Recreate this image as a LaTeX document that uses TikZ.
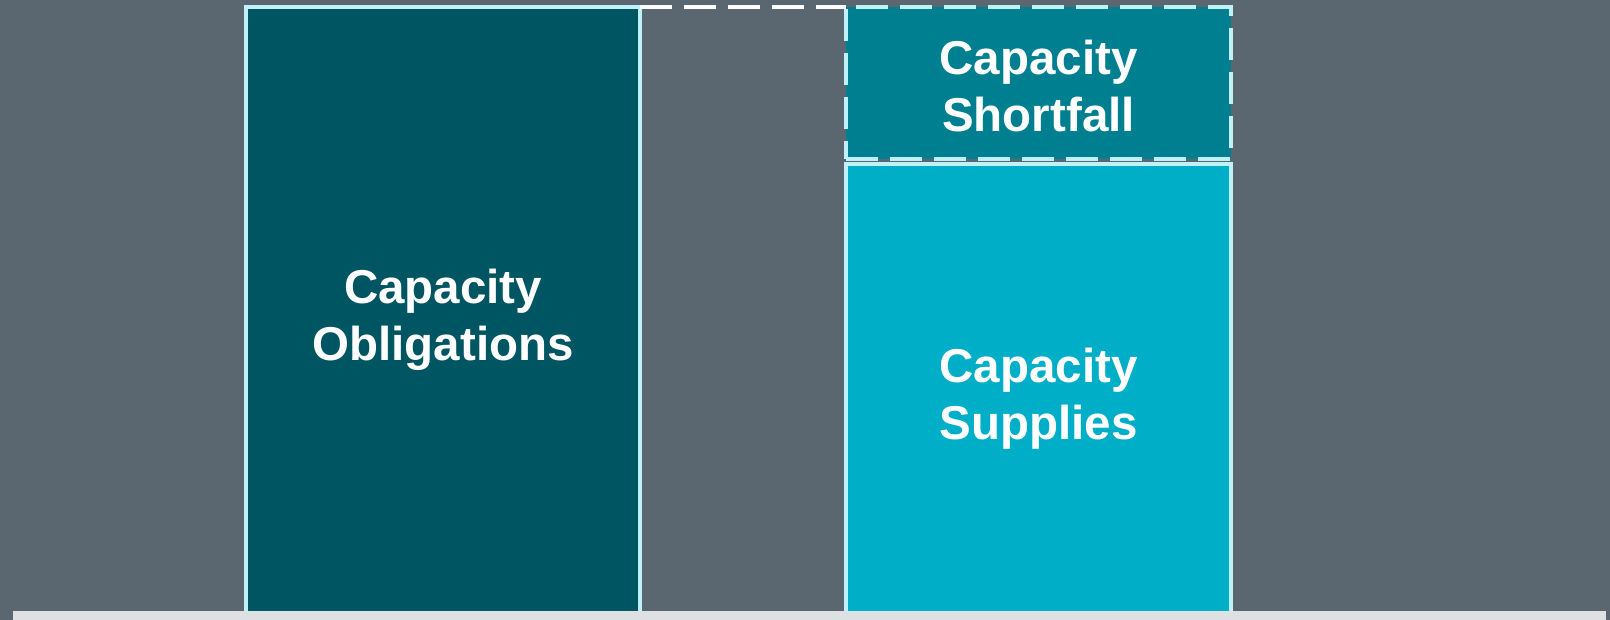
\documentclass[tikz,border=0pt]{standalone}
\usepackage{fontspec}
\setmainfont{Liberation Sans}
\usetikzlibrary{positioning}

\definecolor{slate}{HTML}{5B6770}
\definecolor{deepteal}{HTML}{005562}
\definecolor{midteal}{HTML}{007F90}
\definecolor{brightteal}{HTML}{00AEC7}
\definecolor{paleedge}{HTML}{C1F1F8}
\definecolor{floorgrey}{HTML}{DDE1E4}

\begin{document}
\begin{tikzpicture}[
        x=1pt,
        y=-1pt,
        bar/.style={
            rectangle,
            draw=paleedge,
            line width=4pt,
            inner sep=0pt,
            outer sep=0pt
        },
        gapbar/.style={
            bar,
            dash pattern=on 32pt off 12pt
        },
        barlabel/.style={
            text=white,
            align=center,
            inner sep=0pt,
            font=\bfseries\fontsize{47.5}{57}\selectfont
        },
        link/.style={
            draw=white,
            line width=4pt,
            dash pattern=on 32pt off 12pt
        }
    ]

    % Background and frame
    \useasboundingbox (0,0) rectangle (1610,620);
    \fill[slate] (0,0) rectangle (1610,620);

    % Obligation column
    \node[bar, fill=deepteal, minimum width=394pt, minimum height=608pt]
        (obligations) at (443,311) {};

    % Supply column with the missing part on top
    \node[gapbar, fill=midteal, minimum width=385pt, minimum height=152pt]
        (shortfall) at (1038.5,83) {};
    \node[bar, fill=brightteal, minimum width=385pt, minimum height=451pt]
        (supplies) at (1038.5,389.5) {};

    % Column texts
    \node[barlabel] (obligations-text) at ([yshift=-8.5pt]obligations.center)
        {Capacity\\Obligations};
    \node[barlabel] (shortfall-text) at ([yshift=-3pt]shortfall.center)
        {Capacity\\Shortfall};
    \node[barlabel] (supplies-text) at ([yshift=-9pt]supplies.center)
        {Capacity\\Supplies};

    % Level of the obligations carried across
    \draw[link] (obligations.north east) -- (shortfall.north west);

    % Ground strip
    \fill[floorgrey] (13,611) rectangle (1606,620);

\end{tikzpicture}
\end{document}
